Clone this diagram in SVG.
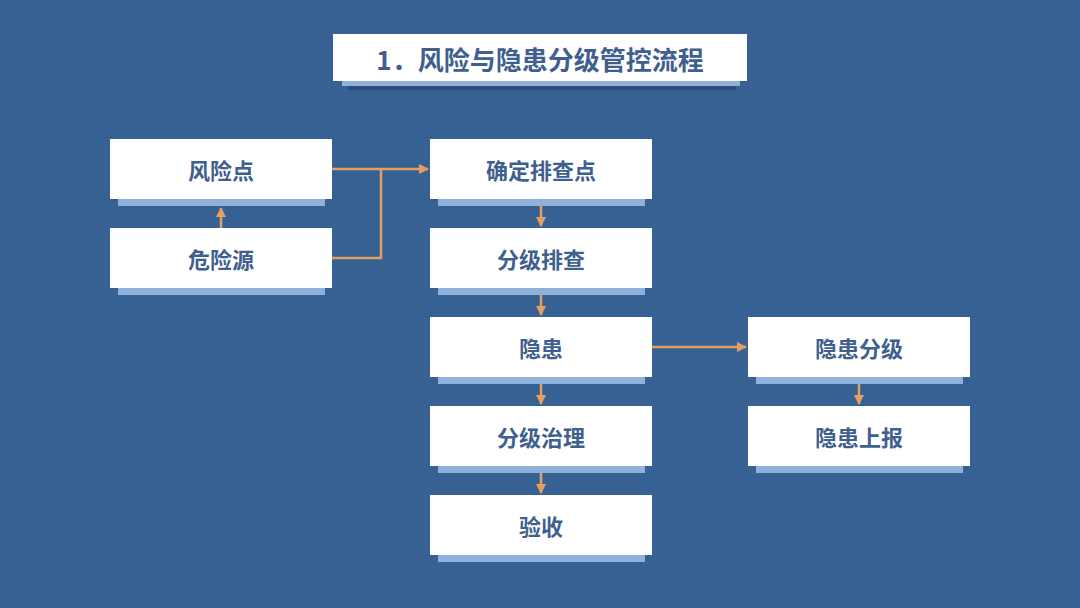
<svg xmlns="http://www.w3.org/2000/svg" width="1080" height="608" viewBox="0 0 1080 608">
<defs>
<style>
.box{fill:#ffffff}
.sh{fill:#8fb1dc}
.t{font-family:"Noto Sans CJK SC","Liberation Sans",sans-serif;font-weight:bold;font-size:22px;fill:#3f5f8f;text-anchor:middle;dominant-baseline:central}
.c{fill:none;stroke:#e3a062;stroke-width:2.5}
</style>
<marker id="ah" viewBox="0 0 10 10" refX="9" refY="5" markerWidth="4" markerHeight="4" orient="auto" markerUnits="strokeWidth">
<path d="M0,0 L10,5 L0,10 z" fill="#e3a062"/>
</marker>
</defs>
<rect width="1080" height="608" fill="#386193"/>
<g id="title">
<rect x="348" y="84" width="388" height="6" fill="#2a4a78"/>
<rect x="342" y="79" width="398" height="7" class="sh"/>
<rect x="333" y="34" width="414" height="47" class="box"/>
<text x="540" y="58" class="t" style="font-size:26px">1．风险与隐患分级管控流程</text>
</g>
<g id="connectors">
<path class="c" d="M332,169 H428" marker-end="url(#ah)"/>
<path class="c" d="M332,258 H381 V169"/>
<path class="c" d="M221,228 V208" marker-end="url(#ah)"/>
<path class="c" d="M541,205 V226" marker-end="url(#ah)"/>
<path class="c" d="M541,294 V315" marker-end="url(#ah)"/>
<path class="c" d="M541,383 V404" marker-end="url(#ah)"/>
<path class="c" d="M541,472 V493" marker-end="url(#ah)"/>
<path class="c" d="M652,347 H746" marker-end="url(#ah)"/>
<path class="c" d="M859,383 V404" marker-end="url(#ah)"/>
</g>
<g id="n1"><rect x="118" y="196" width="207" height="10" class="sh"/><rect x="110" y="139" width="222" height="60" class="box"/><text x="221" y="169" class="t">风险点</text></g>
<g id="n2"><rect x="118" y="285" width="207" height="10" class="sh"/><rect x="110" y="228" width="222" height="60" class="box"/><text x="221" y="258" class="t">危险源</text></g>
<g id="n3"><rect x="438" y="196" width="207" height="10" class="sh"/><rect x="430" y="139" width="222" height="60" class="box"/><text x="541" y="169" class="t">确定排查点</text></g>
<g id="n4"><rect x="438" y="285" width="207" height="10" class="sh"/><rect x="430" y="228" width="222" height="60" class="box"/><text x="541" y="258" class="t">分级排查</text></g>
<g id="n5"><rect x="438" y="374" width="207" height="10" class="sh"/><rect x="430" y="317" width="222" height="60" class="box"/><text x="541" y="347" class="t">隐患</text></g>
<g id="n6"><rect x="438" y="463" width="207" height="10" class="sh"/><rect x="430" y="406" width="222" height="60" class="box"/><text x="541" y="436" class="t">分级治理</text></g>
<g id="n7"><rect x="438" y="552" width="207" height="10" class="sh"/><rect x="430" y="495" width="222" height="60" class="box"/><text x="541" y="525" class="t">验收</text></g>
<g id="n8"><rect x="756" y="374" width="207" height="10" class="sh"/><rect x="748" y="317" width="222" height="60" class="box"/><text x="859" y="347" class="t">隐患分级</text></g>
<g id="n9"><rect x="756" y="463" width="207" height="10" class="sh"/><rect x="748" y="406" width="222" height="60" class="box"/><text x="859" y="436" class="t">隐患上报</text></g>
</svg>
